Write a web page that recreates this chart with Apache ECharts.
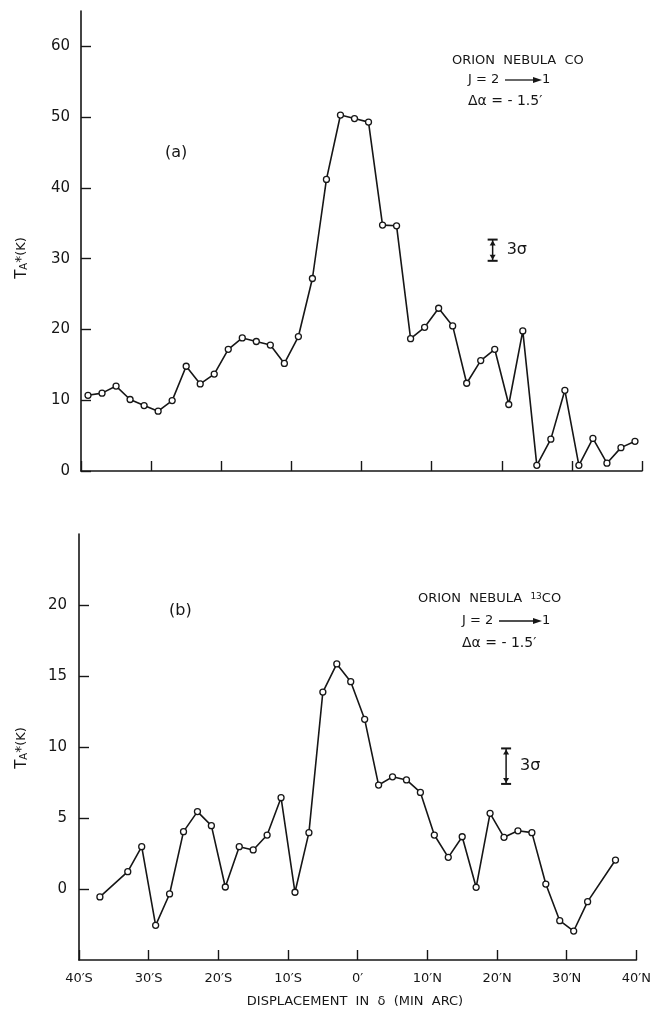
<!DOCTYPE html>
<html>
<head>
<meta charset="utf-8">
<script src="https://cdn.jsdelivr.net/npm/echarts@6/dist/echarts.min.js"></script>
<style>
html,body{margin:0;padding:0;background:#fff;}
#c{width:654px;height:1019px;}
</style>
</head>
<body>
<div id="c"></div>
<script>
// ---- data ----
const xTop = [-39,-37,-35,-33,-31,-29,-27,-25,-23,-21,-19,-17,-15,-13,-11,-9,-7,-5,-3,-1,1,3,5,7,9,11,13,15,17,19,21,23,25,27,29,31,33,35,37,39];
const yTop = [10.7,11.0,12.0,10.1,9.25,8.45,9.95,14.8,12.3,13.7,17.2,18.8,18.3,17.8,15.2,19.0,27.2,41.2,50.3,49.8,49.3,34.75,34.65,18.7,20.3,23.0,20.5,12.4,15.6,17.2,9.4,19.8,0.8,4.5,11.4,0.8,4.6,1.1,3.3,4.2];
const xBot = [-37,-33,-31,-29,-27,-25,-23,-21,-19,-17,-15,-13,-11,-9,-7,-5,-3,-1,1,3,5,7,9,11,13,15,17,19,21,23,25,27,29,31,33,37];
const yBot = [-0.56,1.22,2.98,-2.56,-0.35,4.04,5.45,4.46,0.14,2.98,2.75,3.8,6.43,-0.23,3.97,13.87,15.85,14.6,11.95,7.32,7.9,7.68,6.8,3.8,2.23,3.68,0.12,5.33,3.64,4.1,3.97,0.35,-2.23,-2.96,-0.89,2.04];
// 3-sigma bars: [x, low, high]
const errTop = [[18.7, 29.7, 32.7]];
const errBot = [[21.3, 7.4, 9.9]];
// tick labels
const xTickValues = [-40,-30,-20,-10,0,10,20,30,40];
const xTickLabels = ['40′S','30′S','20′S','10′S','0′','10′N','20′N','30′N','40′N'];
const yTopTicks = [0,10,20,30,40,50,60];
const yBotTicks = [0,5,10,15,20];

const FONT = 'DejaVu Sans';
const INK = '#161616';

const chart = echarts.init(document.getElementById('c'), null, {renderer:'canvas'});

function pairs(xs, ys){ return xs.map((x,i)=>[x, ys[i]]); }

function errRender(params, api){
  const x = api.value(0), lo = api.value(1), hi = api.value(2);
  const pt = api.coord([x, hi]);
  const pb = api.coord([x, lo]);
  const cx = pt[0];
  const st = {stroke: INK, lineWidth: 1.5};
  return {
    type:'group',
    children:[
      {type:'line', shape:{x1:cx, y1:pt[1], x2:cx, y2:pb[1]}, style:st},
      {type:'line', shape:{x1:cx-5, y1:pt[1], x2:cx+5, y2:pt[1]}, style:{stroke:INK, lineWidth:2}},
      {type:'line', shape:{x1:cx-5, y1:pb[1], x2:cx+5, y2:pb[1]}, style:{stroke:INK, lineWidth:2}},
      {type:'polygon', shape:{points:[[cx-3,pt[1]+6],[cx+3,pt[1]+6],[cx,pt[1]+1]]}, style:{fill:INK}},
      {type:'polygon', shape:{points:[[cx-3,pb[1]-6],[cx+3,pb[1]-6],[cx,pb[1]-1]]}, style:{fill:INK}},
      {type:'text', style:{text:'3σ', x:cx+14, y:(pt[1]+pb[1])/2, fill:INK, font:'16px "'+FONT+'"', verticalAlign:'middle', align:'left'}}
    ]
  };
}

const axisLineStyle = {show:true, onZero:false, lineStyle:{color:INK, width:1.6}};
const tickStyle = {show:true, inside:true, length:10, lineStyle:{color:INK, width:1.4}};

const option = {
  animation:false,
  backgroundColor:'#fff',
  grid:[
    {left:81, width:561, top:11, height:460},
    {left:79, width:561, top:534, height:426}
  ],
  xAxis:[
    {
      type:'value', gridIndex:0, min:-40, max:40, interval:10,
      axisLine:axisLineStyle, splitLine:{show:false},
      axisLabel:{show:false},
      axisTick:Object.assign({}, tickStyle, {customValues:xTickValues})
    },
    {
      type:'value', gridIndex:1, min:-40, max:40, interval:10,
      axisLine:axisLineStyle, splitLine:{show:false},
      axisTick:Object.assign({}, tickStyle, {customValues:xTickValues}),
      axisLabel:{show:true, margin:12, color:INK, fontFamily:FONT, fontSize:13,
        customValues:xTickValues,
        formatter:(v)=>{ const i = xTickValues.indexOf(v); return i>=0 ? xTickLabels[i] : ''; }}
    }
  ],
  yAxis:[
    {
      type:'value', gridIndex:0, min:0, max:65, interval:10,
      axisLine:axisLineStyle, splitLine:{show:false},
      axisTick:Object.assign({}, tickStyle, {customValues:yTopTicks}),
      axisLabel:{show:true, margin:11, color:INK, fontFamily:FONT, fontSize:15, customValues:yTopTicks}
    },
    {
      type:'value', gridIndex:1, min:-5, max:25, interval:5,
      axisLine:axisLineStyle, splitLine:{show:false},
      axisTick:Object.assign({}, tickStyle, {customValues:yBotTicks}),
      axisLabel:{show:true, margin:12, color:INK, fontFamily:FONT, fontSize:15, customValues:yBotTicks}
    }
  ],
  series:[
    {type:'line', xAxisIndex:0, yAxisIndex:0, data:pairs(xTop,yTop), showAllSymbol:true,
      symbol:'circle', symbolSize:6, lineStyle:{color:INK, width:1.6},
      itemStyle:{color:'#fff', borderColor:INK, borderWidth:1.3}, z:3},
    {type:'line', xAxisIndex:1, yAxisIndex:1, data:pairs(xBot,yBot), showAllSymbol:true,
      symbol:'circle', symbolSize:6, lineStyle:{color:INK, width:1.6},
      itemStyle:{color:'#fff', borderColor:INK, borderWidth:1.3}, z:3},
    {type:'custom', xAxisIndex:0, yAxisIndex:0, data:errTop, renderItem:errRender, z:4},
    {type:'custom', xAxisIndex:1, yAxisIndex:1, data:errBot, renderItem:errRender, z:4}
  ],
  graphic:[
    // panel labels
    {type:'text', left:165, top:145, style:{text:'(a)', fill:INK, font:'16px "'+FONT+'"'}},
    {type:'text', left:169, top:603, style:{text:'(b)', fill:INK, font:'16px "'+FONT+'"'}},
    // y axis titles
    {type:'text', x:22, y:258, rotation:Math.PI/2,
      style:{text:'{t|T}{a|A}{s|*}{k|(K)}', align:'center', verticalAlign:'middle', fill:INK,
        rich:{t:{fontSize:15, fontFamily:FONT, fill:INK}, a:{fontSize:10, fontFamily:FONT, verticalAlign:'bottom', fill:INK},
              s:{fontSize:14, fontFamily:FONT, verticalAlign:'top', fill:INK}, k:{fontSize:13, fontFamily:FONT, fill:INK}}}},
    {type:'text', x:22, y:748, rotation:Math.PI/2,
      style:{text:'{t|T}{a|A}{s|*}{k|(K)}', align:'center', verticalAlign:'middle', fill:INK,
        rich:{t:{fontSize:15, fontFamily:FONT, fill:INK}, a:{fontSize:10, fontFamily:FONT, verticalAlign:'bottom', fill:INK},
              s:{fontSize:14, fontFamily:FONT, verticalAlign:'top', fill:INK}, k:{fontSize:13, fontFamily:FONT, fill:INK}}}},
    // x axis title
    {type:'text', x:355, y:1002, style:{text:'DISPLACEMENT  IN  δ  (MIN  ARC)', align:'center', verticalAlign:'middle', fill:INK, font:'13px "'+FONT+'"'}},
    // top annotation
    {type:'text', x:452, y:61, style:{text:'ORION  NEBULA  CO', align:'left', verticalAlign:'middle', fill:INK, font:'13px "'+FONT+'"'}},
    {type:'text', x:468, y:80, style:{text:'J = 2', align:'left', verticalAlign:'middle', fill:INK, font:'13px "'+FONT+'"'}},
    {type:'line', shape:{x1:505, y1:80, x2:536, y2:80}, style:{stroke:INK, lineWidth:1.3}},
    {type:'polygon', shape:{points:[[533,77],[542,80],[533,83]]}, style:{fill:INK}},
    {type:'text', x:542, y:80, style:{text:'1', align:'left', verticalAlign:'middle', fill:INK, font:'13px "'+FONT+'"'}},
    {type:'text', x:468, y:101, style:{text:'Δα = - 1.5′', align:'left', verticalAlign:'middle', fill:INK, font:'14px "'+FONT+'"'}},
    // bottom annotation
    {type:'text', x:418, y:599, style:{text:'{m|ORION  NEBULA  }{u|13}{m|CO}', align:'left', verticalAlign:'middle', fill:INK,
      rich:{m:{fontSize:13, fontFamily:FONT, fill:INK}, u:{fontSize:9, fontFamily:FONT, verticalAlign:'top', fill:INK}}}},
    {type:'text', x:462, y:621, style:{text:'J = 2', align:'left', verticalAlign:'middle', fill:INK, font:'13px "'+FONT+'"'}},
    {type:'line', shape:{x1:499, y1:621, x2:536, y2:621}, style:{stroke:INK, lineWidth:1.3}},
    {type:'polygon', shape:{points:[[533,618],[542,621],[533,624]]}, style:{fill:INK}},
    {type:'text', x:542, y:621, style:{text:'1', align:'left', verticalAlign:'middle', fill:INK, font:'13px "'+FONT+'"'}},
    {type:'text', x:462, y:643, style:{text:'Δα = - 1.5′', align:'left', verticalAlign:'middle', fill:INK, font:'14px "'+FONT+'"'}}
  ]
};
chart.setOption(option);
</script>
</body>
</html>
